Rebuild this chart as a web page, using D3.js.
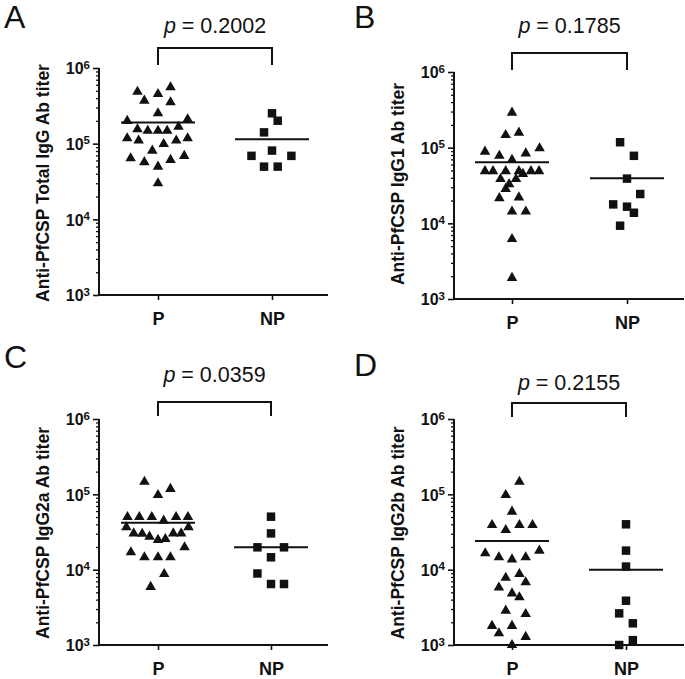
<!DOCTYPE html>
<html><head><meta charset="utf-8">
<script src="https://cdn.jsdelivr.net/npm/d3@7"></script>
<style>
body{margin:0;background:#fff}
svg{display:block}
text{font-family:"Liberation Sans",Arial,sans-serif;fill:#111}
</style>
</head><body><svg id="c" width="685" height="679"></svg>
<script>
// ---------- data ----------
const categories = ["P", "NP"];
const panelLetters = ["A", "B", "C", "D"];
const yTitles = ["Anti-PfCSP Total IgG Ab titer", "Anti-PfCSP IgG1 Ab titer", "Anti-PfCSP IgG2a Ab titer", "Anti-PfCSP IgG2b Ab titer"];
const pValues = ["0.2002", "0.1785", "0.0359", "0.2155"];
const yTickExponents = [3, 4, 5, 6];

const aP = [486000, 453000, 556000, 370000, 352000, 252000, 200000, 210000, 155000, 148000, 148000, 148000, 167000, 118000, 110000, 99000, 110000, 118000, 81000, 64000, 57000, 49700, 61000, 69000, 30000];
const aPJitter = [-0.18, 0, 0.11, -0.12, 0.11, 0, -0.27, 0.26, -0.18, -0.09, 0, 0.08, 0.18, -0.27, -0.17, 0.05, 0.16, 0.26, -0.05, -0.24, -0.12, 0, 0.11, 0.23, 0];
const aNP = [252000, 201000, 141000, 81000, 69000, 69000, 49700, 49700];
const aNPJitter = [0, 0.05, -0.07, 0, -0.18, 0.17, -0.07, 0.05];
const aMeans = [190000, 114000];

const bP = [290000, 147000, 158000, 88500, 78000, 84000, 98000, 69000, 49000, 49000, 49000, 49000, 45000, 49000, 49000, 38500, 38500, 33000, 28500, 21500, 22000, 14300, 14300, 6200, 1900];
const bPJitter = [0, -0.055, 0.06, -0.235, -0.11, 0.12, 0.24, 0, -0.235, -0.165, -0.055, 0.06, 0.095, 0.165, 0.235, -0.1, 0.035, -0.025, -0.055, -0.11, 0.06, 0, 0.12, 0, 0];
const bNP = [118000, 78000, 39000, 24400, 17800, 16600, 13800, 9300];
const bNPJitter = [-0.06, 0.06, 0, 0.115, -0.12, 0, 0.06, -0.06];
const bMeans = [64000, 39500];

const cP = [147000, 98000, 118000, 50000, 50000, 50000, 44700, 50000, 50000, 36500, 36500, 30300, 30000, 27400, 24800, 25500, 30300, 30300, 19800, 17000, 14600, 14600, 14600, 8750, 5900];
const cPJitter = [-0.12, 0, 0.11, -0.27, -0.165, -0.055, 0.05, 0.16, 0.265, -0.28, 0.27, -0.215, -0.14, -0.075, 0, 0.065, 0.135, 0.205, 0.235, -0.24, -0.12, 0, 0.11, 0.055, -0.065];
const cNP = [50500, 30300, 19800, 19800, 14600, 8900, 6450, 6450];
const cNPJitter = [0, 0, -0.12, 0.115, 0, -0.12, 0, 0.115];
const cMeans = [42000, 19800];

const dP = [147000, 98000, 59000, 39200, 33600, 39200, 39200, 16500, 14600, 13700, 14600, 17900, 7800, 8750, 5800, 6800, 4850, 4300, 2860, 2580, 1790, 1430, 1790, 1280, 1000];
const dPJitter = [0.065, -0.055, 0, -0.175, -0.055, 0.065, 0.18, -0.235, -0.115, 0, 0.12, 0.24, -0.055, 0.065, -0.115, 0.12, 0, 0.065, -0.055, 0.12, -0.175, -0.115, 0, 0.12, 0];
const dNP = [40000, 17900, 11000, 3870, 2630, 1940, 1160, 1000];
const dNPJitter = [0, 0, 0, 0, -0.06, 0.06, 0.06, -0.06];
const dMeans = [24000, 10000];

// ---------- layout ----------
const layout = [
  {ax: 99,  yTop: 68,  yBot: 295, xEnd: 328, xP: 158, xNP: 272, brY: 48,  brLeg: 65,  pY: 33,  lx: 4,   ly: 28,  tY: 183},
  {ax: 454, yTop: 72,  yBot: 299, xEnd: 684, xP: 512, xNP: 627, brY: 53,  brLeg: 70,  pY: 33,  lx: 354, ly: 28,  tY: 184},
  {ax: 99,  yTop: 419, yBot: 645, xEnd: 328, xP: 158, xNP: 271, brY: 402, brLeg: 416, pY: 382, lx: 4,   ly: 368, tY: 533},
  {ax: 454, yTop: 419, yBot: 645, xEnd: 684, xP: 512, xNP: 626, brY: 403, brLeg: 417, pY: 390, lx: 354, ly: 376, tY: 533}
];
const panelData = [
  {P: aP, PJ: aPJitter, NP: aNP, NPJ: aNPJitter, means: aMeans},
  {P: bP, PJ: bPJitter, NP: bNP, NPJ: bNPJitter, means: bMeans},
  {P: cP, PJ: cPJitter, NP: cNP, NPJ: cNPJitter, means: cMeans},
  {P: dP, PJ: dPJitter, NP: dNP, NPJ: dNPJitter, means: dMeans}
];

const svg = d3.select("#c");
const ink = "#111";

panelData.forEach((pd, i) => {
  const L = layout[i];
  const g = svg.append("g");
  const y = d3.scaleLog().domain([1e3, 1e6]).range([L.yBot, L.yTop]);
  const x = d3.scalePoint().domain(categories).range([L.xP, L.xNP]);
  const step = L.xNP - L.xP;

  // minor ticks
  const minor = [];
  for (let e = 3; e < 6; e++) for (let k = 2; k <= 9; k++) minor.push(k * Math.pow(10, e));
  const gMinor = g.append("g").attr("transform", `translate(${L.ax},0)`)
    .call(d3.axisLeft(y).tickValues(minor).tickSize(3).tickFormat(""));
  gMinor.select(".domain").remove();
  gMinor.selectAll("line").attr("stroke", ink).attr("stroke-width", 1.3);

  // major ticks
  const gMajor = g.append("g").attr("transform", `translate(${L.ax},0)`)
    .call(d3.axisLeft(y).tickValues(yTickExponents.map(e => Math.pow(10, e))).tickSize(6).tickPadding(4).tickFormat(""));
  gMajor.select(".domain").attr("stroke", ink).attr("stroke-width", 2).attr("d", `M0,${L.yTop}V${L.yBot}`);
  gMajor.selectAll("line").attr("stroke", ink).attr("stroke-width", 1.6);
  gMajor.selectAll(".tick text").each(function(d) {
    const t = d3.select(this);
    t.attr("x", -9).attr("dy", "0.36em").attr("text-anchor", "end")
      .style("font-size", "16px").style("font-weight", "bold").style("fill", ink);
    t.text(null);
    t.append("tspan").text("10");
    t.append("tspan").attr("dy", "-0.5em").style("font-size", "11.5px").text(Math.round(Math.log10(d)));
  });

  // x axis
  const gx = g.append("g").attr("transform", `translate(0,${L.yBot})`)
    .call(d3.axisBottom(x).tickSize(5).tickPadding(12));
  gx.select(".domain").attr("stroke", ink).attr("stroke-width", 2).attr("d", `M${L.ax},0H${L.xEnd}`);
  gx.selectAll("line").attr("stroke", ink).attr("stroke-width", 1.6);
  gx.selectAll("text").style("font-size", "18px").style("font-weight", "bold").style("fill", ink)
    .style("font-family", '"Liberation Sans",Arial,sans-serif');

  // y title
  g.append("text")
    .attr("transform", `translate(${L.ax - 50},${L.tY}) rotate(-90)`)
    .attr("text-anchor", "middle")
    .style("font-size", "17.5px").style("font-weight", "bold")
    .text(yTitles[i]);

  // mean lines
  categories.forEach((c, j) => {
    g.append("line")
      .attr("x1", x(c) - 37).attr("x2", x(c) + 37)
      .attr("y1", y(pd.means[j])).attr("y2", y(pd.means[j]))
      .attr("stroke", ink).attr("stroke-width", 2);
  });

  // points
  const tri = d3.symbol().type(d3.symbolTriangle).size(48);
  const sq = d3.symbol().type(d3.symbolSquare).size(72);
  g.selectAll(".tp").data(pd.P.map((v, k) => ({v, j: pd.PJ[k]}))).enter().append("path")
    .attr("d", tri)
    .attr("transform", d => `translate(${x("P") + d.j * step},${y(d.v)})`)
    .attr("fill", ink);
  g.selectAll(".sp").data(pd.NP.map((v, k) => ({v, j: pd.NPJ[k]}))).enter().append("path")
    .attr("d", sq)
    .attr("transform", d => `translate(${x("NP") + d.j * step},${y(d.v)})`)
    .attr("fill", ink);

  // bracket
  g.append("path")
    .attr("d", `M${x("P")},${L.brLeg}V${L.brY}H${x("NP")}V${L.brLeg}`)
    .attr("fill", "none").attr("stroke", ink).attr("stroke-width", 2);

  // p value
  const pt = g.append("text").attr("x", (x("P") + x("NP")) / 2).attr("y", L.pY)
    .attr("text-anchor", "middle").style("font-size", "21.5px");
  pt.append("tspan").style("font-style", "italic").text("p");
  pt.append("tspan").text(" = " + pValues[i]);

  // panel letter
  g.append("text").attr("x", L.lx).attr("y", L.ly).style("font-size", "32px").text(panelLetters[i]);
});
</script>
</body></html>
